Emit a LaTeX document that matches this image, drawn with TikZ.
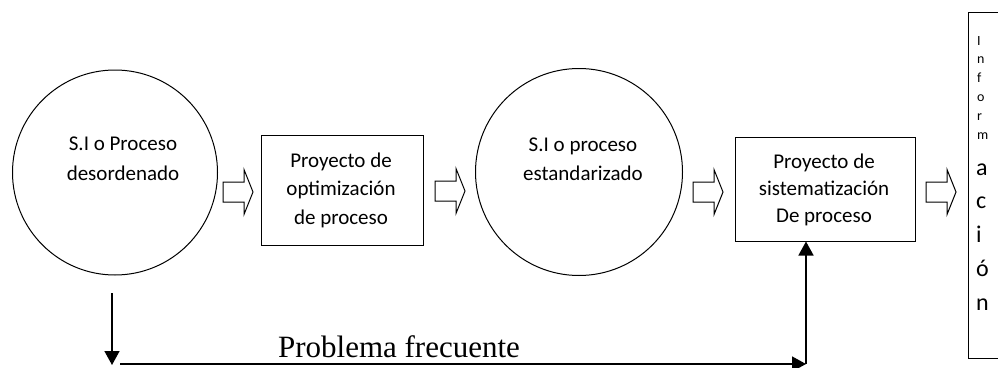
\documentclass[tikz,border=0pt]{standalone}
\usepackage{fontspec}
\setmainfont{Carlito}
\newfontfamily\serifrm{Liberation Serif}
\usetikzlibrary{arrows.meta}
\begin{document}
\begin{tikzpicture}[x=1pt,y=-1pt,
  shapeline/.style={draw=black,line width=1pt},
  circ/.style={shapeline,circle,inner sep=0pt},
  procbox/.style={shapeline,rectangle,inner sep=0pt},
  txt/.style={font=\fontsize{21}{21}\selectfont,anchor=base,inner sep=0pt},
  smallletter/.style={font=\fontsize{14}{14}\selectfont,anchor=base west,inner sep=0pt},
  bigletter/.style={font=\fontsize{24}{24}\selectfont,anchor=base west,inner sep=0pt},
  conn/.style={line width=1.5pt,-{Triangle[length=14pt,width=15pt]}},
  blockarrow/.pic={\draw[line width=1pt,fill=white] (0,-10) -- (21,-10) -- (21,-22.5) -- (30,0) -- (21,22.5) -- (21,10) -- (0,10) -- cycle;}
]
\useasboundingbox (0,0) rectangle (998,367);
% shapes
\node[circ,minimum size=205pt] (c1) at (115,172.5) {};
\node[circ,minimum size=207pt] (c2) at (579,172) {};
\node[procbox,minimum width=162pt,minimum height=110pt] (b1) at (342,190) {};
\node[procbox,minimum width=180pt,minimum height=104pt] (b2) at (825,189) {};
\node[procbox,minimum width=32pt,minimum height=346pt] (info) at (984,185) {};
% texts
\node[txt] (c1t1) at (123,150) {S.I o Proceso};
\node[txt] (c1t2) at (123,180) {desordenado};
\node[txt] (c2t1) at (583,151) {S.I o proceso};
\node[txt] (c2t2) at (583,180) {estandarizado};
\node[txt] (b1t1) at (341,167) {Proyecto de};
\node[txt] (b1t2) at (341,195) {optimización};
\node[txt] (b1t3) at (341,224) {de proceso};
\node[txt] (b2t1) at (824,168) {Proyecto de};
\node[txt] (b2t2) at (824,195) {sistematización};
\node[txt] (b2t3) at (824,222) {De proceso};
% vertical word
\node[smallletter] (l1) at (977,45) {I};
\node[smallletter] (l2) at (977,63.8) {n};
\node[smallletter] (l3) at (977,82.6) {f};
\node[smallletter] (l4) at (977,101.4) {o};
\node[smallletter] (l5) at (977,120.2) {r};
\node[smallletter] (l6) at (977,139) {m};
\node[bigletter] (l7) at (976,175) {a};
\node[bigletter] (l8) at (976,208.75) {c};
\node[bigletter] (l9) at (976,242.5) {i};
\node[bigletter] (l10) at (976,276.25) {ó};
\node[bigletter] (l11) at (976,310) {n};
% block arrows
\pic at (223,192) {blockarrow};
\pic at (435,191) {blockarrow};
\pic at (693,192) {blockarrow};
\pic at (926,192) {blockarrow};
% feedback connectors
\coordinate (d0) at (112,293);
\coordinate (d1) at (112,365);
\coordinate (h0) at (120,364);
\coordinate (h1) at (806,364);
\draw[conn] (d0) -- (d1);
\draw[conn] (h0) -- (h1);
\draw[conn] (h1) -- (h1 |- b2.south);
\node[font=\serifrm\fontsize{31}{31}\selectfont,anchor=base,inner sep=0pt] (prob) at (399,357) {Problema frecuente};
\end{tikzpicture}
\end{document}
